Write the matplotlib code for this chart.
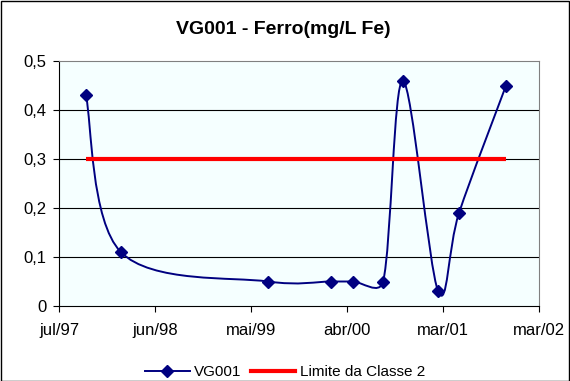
import numpy as np
import matplotlib.pyplot as plt
import matplotlib.dates as mdates
from matplotlib.path import Path
from matplotlib.patches import PathPatch, Rectangle
from matplotlib.lines import Line2D
from matplotlib.ticker import FuncFormatter

plt.rcParams['font.family'] = ['Liberation Sans', 'DejaVu Sans']

# Data
sample_dates = [
    "1997-10-03", "1998-02-02", "1999-06-30", "2000-02-05", "2000-04-22",
    "2000-08-05", "2000-10-13", "2001-02-13", "2001-04-27", "2001-10-08"
]
ferro = [0.43, 0.11, 0.05, 0.05, 0.05, 0.05, 0.46, 0.03, 0.19, 0.45]
limite_classe2 = 0.3

axis_start = "1997-07-01"
tick_step_days = 335
tick_labels = ["jul/97", "jun/98", "mai/99", "abr/00", "mar/01", "mar/02"]
y_ticks = [0, 0.1, 0.2, 0.3, 0.4, 0.5]

navy = '#000080'

x = mdates.datestr2num(sample_dates)
x_ticks = mdates.datestr2num(axis_start) + tick_step_days * np.arange(len(tick_labels))

fig = plt.figure(figsize=(5.7, 3.81), dpi=100)
ax = fig.add_axes([59 / 570, 1 - 306 / 381, 480 / 570, 245 / 381])
ax.set_facecolor('#F5FFFF')
ax.set_xlim(x_ticks[0], x_ticks[-1])
ax.set_ylim(y_ticks[0], y_ticks[-1])

# Excel-like smoothed line (bezier, control points limited in screen space)
pts = ax.transData.transform(np.column_stack([x, ferro]))
n = len(pts)
verts = [pts[0]]
codes = [Path.MOVETO]
for i in range(n - 1):
    p0 = pts[max(i - 1, 0)]
    p1 = pts[i]
    p2 = pts[i + 1]
    p3 = pts[min(i + 2, n - 1)]
    d12 = np.hypot(*(p2 - p1))
    d02 = np.hypot(*(p2 - p0))
    d13 = np.hypot(*(p3 - p1))
    f0 = min(1 / 6, d12 / (2 * d02)) if d02 > 0 else 0
    f3 = min(1 / 6, d12 / (2 * d13)) if d13 > 0 else 0
    verts += [p1 + f0 * (p2 - p0), p2 - f3 * (p3 - p1), p2]
    codes += [Path.CURVE4] * 3
curve = Path(ax.transData.inverted().transform(np.array(verts)), codes)
ax.add_patch(PathPatch(curve, fill=False, edgecolor=navy, lw=1.4, zorder=3))
ax.plot(x, ferro, linestyle='none', marker='D', color=navy, ms=6.5, zorder=4)

# Limit line
ax.plot([x[0], x[-1]], [limite_classe2, limite_classe2], color='#FF0000', lw=3,
        solid_capstyle='butt', zorder=5, label='Limite da Classe 2')

# Grid lines
ax.hlines(y_ticks[1:-1], x_ticks[0], x_ticks[-1], colors='black', lw=0.8, zorder=1)

# Axes
ax.set_xticks(x_ticks)
ax.set_xticklabels(tick_labels)
ax.set_yticks(y_ticks)
ax.yaxis.set_major_formatter(FuncFormatter(lambda v, p: ('%g' % round(v, 2)).replace('.', ',')))
ax.tick_params(axis='both', labelsize=12, length=4, width=0.8, color='black')
ax.tick_params(axis='x', pad=8)
ax.tick_params(axis='y', pad=5)
for side in ['top', 'right']:
    ax.spines[side].set_color('#808080')
for side in ['left', 'bottom']:
    ax.spines[side].set_color('black')

# Title
fig.text(283 / 570, 1 - 29 / 381, 'VG001 - Ferro(mg/L Fe)', ha='center', va='center',
         fontsize=14, fontweight='bold')

# Legend
handles = [
    Line2D([], [], color=navy, marker='D', ms=6.5, lw=1.4, label='VG001'),
    Line2D([], [], color='#FF0000', lw=3, label='Limite da Classe 2'),
]
fig.legend(handles=handles, loc='center', bbox_to_anchor=(285 / 570, 1 - 372 / 381),
           ncol=2, frameon=False, fontsize=11, handlelength=2.9, handletextpad=0.3,
           columnspacing=0.6, borderpad=0)

# Outer border
fig.patches.append(Rectangle((0.001, 0.001), 0.997, 0.997, transform=fig.transFigure,
                             fill=False, edgecolor='black', lw=1))

plt.savefig('out.png', dpi=100)
